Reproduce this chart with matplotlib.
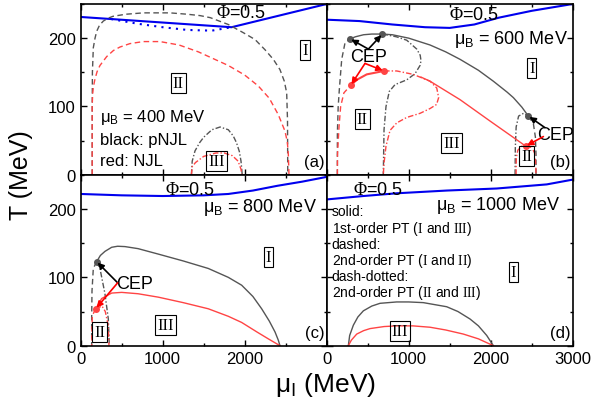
import matplotlib
matplotlib.use("Agg")
import matplotlib.pyplot as plt
from matplotlib.ticker import MultipleLocator

plt.rcParams['font.family'] = ['Liberation Sans', 'DejaVu Sans']
plt.rcParams['mathtext.fontset'] = 'custom'
plt.rcParams['mathtext.rm'] = 'Liberation Serif'
plt.rcParams['mathtext.sf'] = 'Liberation Sans'
plt.rcParams['mathtext.it'] = 'Liberation Serif:italic'

# ---------------- data (mu_I in MeV, T in MeV) ----------------
# panel (a) mu_B = 400 MeV
a_blue_x = [0, 1840, 3000]
a_blue_T = [231, 216, 250]
a_bdot_x = [370, 700, 1000, 1300, 1600, 1840]
a_bdot_T = [228, 221, 216, 212, 211, 216]
a_kdash_x = [141, 141, 143, 154, 175, 195, 230, 276, 330, 395, 550, 763, 1089, 1300, 1455, 1580, 1800, 1983, 2126, 2248, 2349, 2430, 2483, 2512, 2522, 2525]
a_kdash_T = [0, 100, 150, 186, 200, 210, 219, 225, 229, 232, 235, 237, 237, 235, 233, 230, 220, 208, 198, 183, 169, 154, 137, 120, 80, 0]
a_rdash_x = [140, 140, 146, 154, 174, 200, 235, 317, 400, 479, 600, 763, 967, 1200, 1434, 1800, 2000, 2166, 2300, 2410, 2491, 2520, 2532, 2540]
a_rdash_T = [0, 100, 118, 128, 140, 151, 160, 173, 182, 187, 192, 195, 195, 190, 180, 160, 146, 130, 112, 88, 64, 48, 30, 0]
a_kdd_x = [1350, 1360, 1394, 1450, 1500, 1600, 1700, 1800, 1860, 1900, 1935, 1955, 1970]
a_kdd_T = [0, 20, 35, 47, 55, 66, 70, 66, 57, 47, 34, 20, 0]
a_rdd_x = [1350, 1360, 1400, 1500, 1650, 1750, 1850, 1920, 1955, 1965]
a_rdd_T = [0, 12, 18, 27, 32, 32, 28, 20, 8, 0]

# panel (b) mu_B = 600 MeV
b_blue_x = [0, 400, 800, 1200, 1500, 1800, 2100, 2500, 3000]
b_blue_T = [227, 225, 220, 216, 215, 220, 230, 240, 250]
b_ksol_x = [285, 350, 450, 550, 679, 800, 1000, 1260, 1450, 1626, 1850, 2032, 2200, 2276, 2380, 2459]
b_ksol_T = [199, 202, 205, 206, 206, 205, 200, 190, 180, 169, 153, 137, 121, 113, 99, 86]
b_kdash_x = [130, 130, 140, 154, 183, 223, 285]
b_kdash_T = [0, 60, 100, 125, 169, 193, 199]
b_kdd_x = [679, 850, 976, 1098, 1140, 1150, 1138, 1077, 976, 833, 763, 723, 699, 690]
b_kdd_T = [206, 202, 197, 184, 175, 167, 160, 148, 139, 132, 122, 100, 66, 0]
b_kdd2_x = [2297, 2300, 2310, 2340, 2400, 2459]
b_kdd2_T = [0, 40, 70, 86, 90, 86]
b_kdash2_x = [2459, 2520, 2545, 2552, 2552]
b_kdash2_T = [86, 75, 55, 30, 0]
b_rdash_x = [130, 132, 150, 170, 210, 293]
b_rdash_T = [0, 30, 70, 100, 120, 131]
b_rsol_x = [293, 366, 488, 699]
b_rsol_T = [131, 139, 147, 152]
b_rdd_x = [699, 854, 1056, 1260, 1342, 1365, 1340, 1260, 1138, 976, 854, 772, 723, 699, 690]
b_rdd_T = [152, 152, 147, 137, 127, 113, 103, 97, 90, 84, 76, 65, 42, 17, 0]
b_rsol2_x = [1150, 1260, 1626, 2000, 2427]
b_rsol2_T = [143, 137, 110, 78, 42]
b_rdd2_x = [2309, 2312, 2330, 2380, 2427]
b_rdd2_T = [0, 25, 36, 42, 42]
b_rdash2_x = [2427, 2500, 2535, 2550, 2552]
b_rdash2_T = [42, 40, 32, 15, 0]

# panel (c) mu_B = 800 MeV
c_blue_x = [0, 500, 1000, 1500, 1800, 2100, 2400, 2700, 3000]
c_blue_T = [222, 220, 219, 220, 222, 227, 234, 240, 247]
c_ksol_x = [195, 240, 296, 378, 450, 540, 700, 947, 1250, 1556, 1800, 1963, 2100, 2207, 2300, 2370, 2410, 2430]
c_ksol_T = [123, 132, 138, 144, 145.5, 145, 142, 134, 124, 113, 100, 88.5, 72, 54, 36, 20, 8, 0]
c_kdash_x = [195, 154, 138, 134, 134]
c_kdash_T = [123, 113, 80, 40, 0]
c_kdd_x = [195, 235, 296, 337, 349]
c_kdd_T = [123, 113, 76, 39, 0]
c_rsol_x = [183, 256, 378, 500, 700, 947, 1250, 1556, 1800, 1963, 2150, 2288, 2430]
c_rsol_T = [54, 69, 77, 78, 76, 71, 63, 54, 43, 34, 20, 10, 0]
c_rdash_x = [183, 142, 136, 135]
c_rdash_T = [54, 44, 20, 0]
c_rdd_x = [183, 260, 300, 335, 345]
c_rdd_T = [54, 58, 50, 30, 0]

# panel (d) mu_B = 1000 MeV
d_blue_x = [0, 447, 854, 1463, 2073, 2683, 3000]
d_blue_T = [214, 219, 223, 227, 230, 236, 243]
d_ksol_x = [264, 280, 325, 380, 447, 550, 650, 854, 1000, 1178, 1463, 1600, 1748, 1850, 1951, 2032]
d_ksol_T = [0, 15, 30, 42, 51, 58, 62, 64, 64, 63, 57, 50, 39, 29, 15, 0]
d_rsol_x = [264, 300, 366, 450, 528, 700, 854, 1050, 1260, 1450, 1666, 1850, 2032]
d_rsol_T = [0, 8, 17, 22, 25, 28, 29, 29, 27, 23, 17, 10, 0]

# CEP points
b_cep_k = [(285, 199), (679, 206), (2459, 86)]
b_cep_r = [(293, 131), (699, 152), (2427, 42)]
c_cep_k = [(195, 123)]
c_cep_r = [(183, 54)]

# ---------------- styling ----------------
KC = '#555555'
RC = '#ff4444'
BC = '#0000ee'
DASH = (0, (4, 2.5))
DD = (0, (4, 1.5, 1, 1.5))

fig = plt.figure(figsize=(6.03, 4.02), dpi=100)
L0, L1, W = 0.1338, 0.5418, 0.408
B0, B1, H = 0.1376, 0.5626, 0.425
axa = fig.add_axes([L0, B1, W, H])
axb = fig.add_axes([L1, B1, W, H])
axc = fig.add_axes([L0, B0, W, H])
axd = fig.add_axes([L1, B0, W, H])

for ax in (axa, axb, axc, axd):
    ax.set_xlim(0, 3000)
    ax.set_ylim(0, 250)
    ax.xaxis.set_major_locator(MultipleLocator(1000))
    ax.xaxis.set_minor_locator(MultipleLocator(500))
    ax.yaxis.set_major_locator(MultipleLocator(100))
    ax.yaxis.set_minor_locator(MultipleLocator(50))
    ax.tick_params(which='both', direction='in', top=True, right=True, labelsize=12, width=1)
    ax.tick_params(which='major', length=4)
    ax.tick_params(which='minor', length=2.5)
    for s in ax.spines.values():
        s.set_linewidth(1.2)

axa.tick_params(labelbottom=False)
axb.tick_params(labelbottom=False, labelleft=False)
axd.tick_params(labelleft=False)
axc.set_xticks([0, 1000, 2000])
axc.set_xticks([500, 1500, 2500], minor=True)

def box(ax, x, y, s):
    ax.text(x, y, s, family='Liberation Serif', fontsize=12, ha='center', va='center',
            bbox=dict(boxstyle='square,pad=0.12', fc='none', ec='black', lw=0.8))

def txt(ax, x, y, s, **kw):
    kw.setdefault('fontsize', 12)
    ax.text(x, y, s, **kw)

def arrow(ax, xy, xyt, c):
    ax.annotate('', xy=xy, xytext=xyt,
                arrowprops=dict(arrowstyle='-|>', color=c, lw=1.2, mutation_scale=9,
                                shrinkA=0, shrinkB=1))

PHI = r'$\mathrm{\Phi}$=0.5'

# ---- (a)
axa.plot(a_blue_x, a_blue_T, color=BC, lw=1.5)
axa.plot(a_bdot_x, a_bdot_T, color=BC, lw=1.5, ls=(0, (1, 2.5)))
axa.plot(a_kdash_x, a_kdash_T, color=KC, lw=1, ls=DASH)
axa.plot(a_rdash_x, a_rdash_T, color=RC, lw=1, ls=DASH)
axa.plot(a_kdd_x, a_kdd_T, color=KC, lw=1, ls=DD)
axa.plot(a_rdd_x, a_rdd_T, color=RC, lw=1, ls=DD)
txt(axa, 1960, 237, PHI, ha='center', va='center', fontsize=13)
box(axa, 2736, 183, 'I')
box(axa, 1191, 134, 'II')
box(axa, 1658, 20, 'III')
txt(axa, 230, 86, r'$\mathsf{\mu_B}$ = 400 MeV', va='center')
txt(axa, 230, 52, 'black: pNJL', va='center')
txt(axa, 230, 21, 'red: NJL', va='center')
txt(axa, 2975, 8, '(a)', ha='right', va='bottom')

# ---- (b)
axb.plot(b_blue_x, b_blue_T, color=BC, lw=1.5)
axb.plot(b_ksol_x, b_ksol_T, color=KC, lw=1)
axb.plot(b_kdash_x, b_kdash_T, color=KC, lw=1, ls=DASH)
axb.plot(b_kdd_x, b_kdd_T, color=KC, lw=1, ls=DD)
axb.plot(b_kdd2_x, b_kdd2_T, color=KC, lw=1, ls=DD)
axb.plot(b_kdash2_x, b_kdash2_T, color=KC, lw=1, ls=DASH)
axb.plot(b_rdash_x, b_rdash_T, color=RC, lw=1, ls=DASH)
axb.plot(b_rsol_x, b_rsol_T, color=RC, lw=1.5)
axb.plot(b_rdd_x, b_rdd_T, color=RC, lw=1, ls=DD)
axb.plot(b_rsol2_x, b_rsol2_T, color=RC, lw=1)
axb.plot(b_rdd2_x, b_rdd2_T, color=RC, lw=1, ls=DD)
axb.plot(b_rdash2_x, b_rdash2_T, color=RC, lw=1, ls=DASH)
for p in b_cep_k:
    axb.plot(*p, 'o', color=KC, ms=4)
for p in b_cep_r:
    axb.plot(*p, 'o', color=RC, ms=4)
txt(axb, 1790, 234, PHI, ha='center', va='center', fontsize=13)
txt(axb, 2940, 200, r'$\mathsf{\mu_B}$ = 600 MeV', ha='right', va='center', fontsize=13)
box(axb, 2500, 156, 'I')
box(axb, 434, 81, 'II')
box(axb, 1524, 47, 'III')
box(axb, 2439, 27, 'II')
txt(axb, 508, 173, 'CEP', ha='center', va='center', fontsize=13)
arrow(axb, b_cep_k[0], (508, 184), 'black')
arrow(axb, b_cep_k[1], (508, 184), 'black')
arrow(axb, b_cep_r[0], (467, 163), 'red')
arrow(axb, b_cep_r[1], (467, 163), 'red')
txt(axb, 2790, 59, 'CEP', ha='center', va='center', fontsize=13)
arrow(axb, b_cep_k[2], (2662, 69), 'black')
arrow(axb, b_cep_r[2], (2642, 56), 'red')
txt(axb, 2975, 8, '(b)', ha='right', va='bottom')

# ---- (c)
axc.plot(c_blue_x, c_blue_T, color=BC, lw=1.5)
axc.plot(c_ksol_x, c_ksol_T, color=KC, lw=1)
axc.plot(c_kdash_x, c_kdash_T, color=KC, lw=1, ls=DASH)
axc.plot(c_kdd_x, c_kdd_T, color=KC, lw=1, ls=DD)
axc.plot(c_rsol_x, c_rsol_T, color=RC, lw=1)
axc.plot(c_rdash_x, c_rdash_T, color=RC, lw=1, ls=DASH)
axc.plot(c_rdd_x, c_rdd_T, color=RC, lw=1, ls=DD)
for p in c_cep_k:
    axc.plot(*p, 'o', color=KC, ms=4)
for p in c_cep_r:
    axc.plot(*p, 'o', color=RC, ms=4)
txt(axc, 1333, 229, PHI, ha='center', va='center', fontsize=13)
txt(axc, 2880, 204, r'$\mathsf{\mu_B}$ = 800 MeV', ha='right', va='center', fontsize=13)
box(axc, 2288, 130, 'I')
box(axc, 235, 20, 'II')
box(axc, 1037, 30, 'III')
txt(axc, 662, 91, 'CEP', ha='center', va='center', fontsize=13)
arrow(axc, c_cep_k[0], (451, 92), 'black')
arrow(axc, c_cep_r[0], (451, 92), 'red')
txt(axc, 2975, 8, '(c)', ha='right', va='bottom')

# ---- (d)
axd.plot(d_blue_x, d_blue_T, color=BC, lw=1.5)
axd.plot(d_ksol_x, d_ksol_T, color=KC, lw=1)
axd.plot(d_rsol_x, d_rsol_T, color=RC, lw=1)
txt(axd, 630, 229, PHI, ha='center', va='center', fontsize=13)
txt(axd, 2845, 206, r'$\mathsf{\mu_B}$ = 1000 MeV', ha='right', va='center', fontsize=13)
legend_lines = ['solid:', r'1st-order PT ($\mathrm{I}$ and $\mathrm{III}$)', 'dashed:',
                r'2nd-order PT ($\mathrm{I}$ and $\mathrm{II}$)', 'dash-dotted:',
                r'2nd-order PT ($\mathrm{II}$ and $\mathrm{III}$)']
legend_T = [197, 172, 149, 126, 102, 78]
for s, t in zip(legend_lines, legend_T):
    txt(axd, 60, t, s, fontsize=10, va='center')
box(axd, 2276, 108, 'I')
box(axd, 894, 21, 'III')
txt(axd, 2975, 8, '(d)', ha='right', va='bottom')

fig.text(0.035, 0.565, 'T (MeV)', fontsize=18, rotation=90, ha='center', va='center')
fig.text(0.54, 0.042, r'$\mathsf{\mu_I}$ (MeV)', fontsize=19, ha='center', va='center')

fig.savefig('out.png', dpi=100)
